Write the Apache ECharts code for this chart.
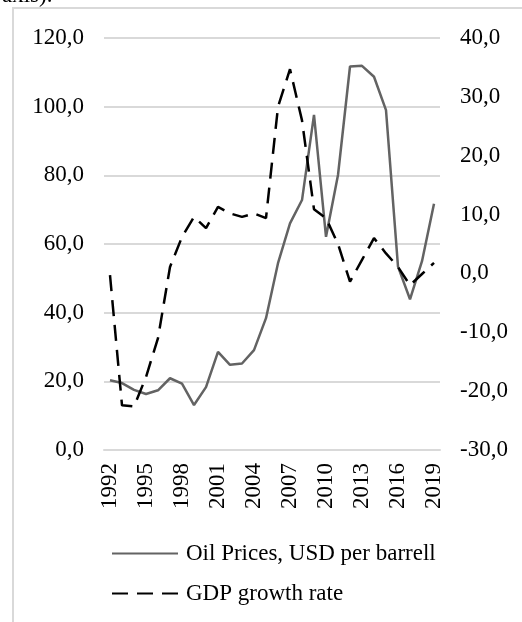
<!DOCTYPE html>
<html>
	<head>
		<meta charset="utf-8">
		<title></title>
		<script type="text/javascript" src="https://cdn.jsdelivr.net/npm/echarts@6/dist/echarts.min.js"></script>
		<style>
			html, body { margin: 0; padding: 0; background: #fff; }
			#chart { width: 522px; height: 622px; }
		</style>
	</head>
	<body>
		<div id="chart"></div>
		<script type="text/javascript">
			var years = ['1992', '1993', '1994', '1995', '1996', '1997', '1998', '1999', '2000', '2001',
				'2002', '2003', '2004', '2005', '2006', '2007', '2008', '2009', '2010', '2011',
				'2012', '2013', '2014', '2015', '2016', '2017', '2018', '2019'];
			// Oil Prices, USD per barrell (left axis)
			var oilPrices = [20.3, 19.5, 17.5, 16.3, 17.4, 20.9, 19.3, 13.1, 18.3, 28.6,
				24.8, 25.2, 29.1, 38.4, 54.4, 66.0, 72.8, 97.6, 62.1, 80.1,
				111.7, 111.9, 108.7, 99.0, 53.4, 43.9, 55.0, 71.7];
			// GDP growth rate (right axis)
			var gdpGrowth = [-0.3, -22.4, -22.6, -17.6, -11.0, 1.1, 6.2, 9.6, 7.7, 11.3,
				10.2, 9.6, 10.2, 9.4, 28.3, 34.7, 26.0, 10.9, 9.4, 5.0,
				-1.4, 2.3, 6.0, 3.4, 1.1, -2.0, -0.1, 1.8];
			var seriesNames = ['Oil Prices, USD per barrell', 'GDP growth rate'];

			var serif = '"Liberation Serif", "Times New Roman", serif';

			// 120.0 -> 120,0
			function commaFmt(value) {
				return value.toFixed(1).replace('.', ',');
			}

			var myChart = echarts.init(document.getElementById('chart'));
			var option = {
				animation: false,
				textStyle: {
					fontFamily: serif
				},
				graphic: [{
					type: 'rect',
					silent: true,
					shape: { x: 13, y: 8, width: 600, height: 700 },
					style: { fill: 'none', stroke: '#d9d9d9', lineWidth: 2 }
				}, {
					type: 'text',
					silent: true,
					left: 2,
					top: -16,
					style: { text: 'axis).', font: '23px ' + serif, fill: '#000' }
				}],
				grid: {
					left: 104,
					right: 82,
					top: 38,
					bottom: 172
				},
				legend: {
					orient: 'vertical',
					left: 106,
					top: 537,
					itemWidth: 66,
					itemHeight: 12,
					itemGap: 17,
					itemStyle: { opacity: 0 },
					textStyle: {
						fontFamily: serif,
						fontSize: 23,
						color: '#000',
						padding: [0, 0, 0, 3]
					},
					data: seriesNames
				},
				xAxis: {
					type: 'category',
					data: years,
					boundaryGap: true,
					axisLine: { show: true, lineStyle: { color: '#d9d9d9', width: 2 } },
					axisTick: { show: false },
					axisLabel: {
						interval: 2,
						rotate: 90,
						margin: 13,
						color: '#000',
						fontFamily: serif,
						fontSize: 23
					}
				},
				yAxis: [{
					type: 'value',
					min: 0,
					max: 120,
					interval: 20,
					axisLine: { show: false },
					axisTick: { show: false },
					splitLine: { lineStyle: { color: '#d9d9d9', width: 2 } },
					axisLabel: {
						margin: 20,
						color: '#000',
						fontFamily: serif,
						fontSize: 23,
						formatter: commaFmt
					}
				}, {
					type: 'value',
					min: -30,
					max: 40,
					interval: 10,
					axisLine: { show: false },
					axisTick: { show: false },
					splitLine: { show: false },
					axisLabel: {
						margin: 20,
						color: '#000',
						fontFamily: serif,
						fontSize: 23,
						formatter: commaFmt
					}
				}],
				series: [{
					name: seriesNames[0],
					type: 'line',
					yAxisIndex: 0,
					symbol: 'none',
					data: oilPrices,
					lineStyle: { color: '#636363', width: 2.5 },
					itemStyle: { color: '#636363' },
					z: 2
				}, {
					name: seriesNames[1],
					type: 'line',
					yAxisIndex: 1,
					symbol: 'none',
					data: gdpGrowth,
					lineStyle: { color: '#000', width: 2.5, type: [16, 9] },
					itemStyle: { color: '#000' },
					z: 3
				}]
			};

			myChart.setOption(option);
		</script>
	</body>
</html>
